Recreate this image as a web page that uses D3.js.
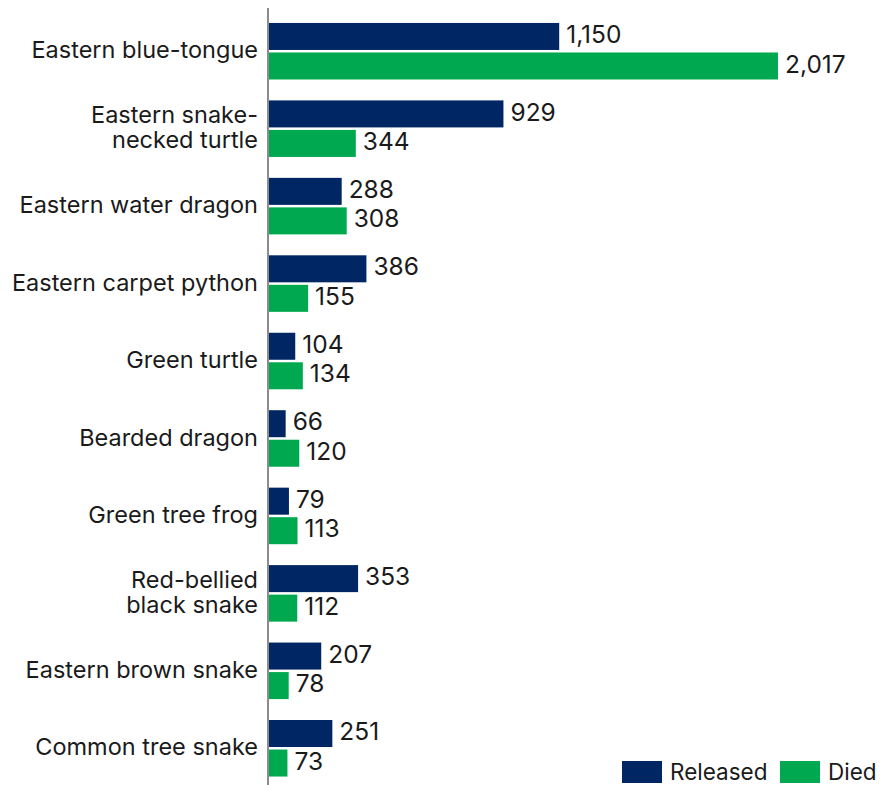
<!DOCTYPE html>
<html>
<head>
<meta charset="utf-8">
<script src="https://cdn.jsdelivr.net/npm/d3@7"></script>
<style>
	body { margin: 0; background: #fff; }
	text { font-family: "Inter", "Roboto", sans-serif; fill: #1a1a1a; }
</style>
</head>
<body>
<div id="chart"></div>
<script>
// species, top to bottom; "\n" splits the two-line labels
const species = [
	"Eastern blue-tongue",
	"Eastern snake-\nnecked turtle",
	"Eastern water dragon",
	"Eastern carpet python",
	"Green turtle",
	"Bearded dragon",
	"Green tree frog",
	"Red-bellied\nblack snake",
	"Eastern brown snake",
	"Common tree snake"
];
const released = [1150, 929, 288, 386, 104, 66, 79, 353, 207, 251];
const died = [2017, 344, 308, 155, 134, 120, 113, 112, 78, 73];
const series = ["Released", "Died"];
const colours = ["#002664", "#00a94f"];

const width = 890, height = 785;
const margin = {left: 268, right: 112};

const data = species.map((s, i) => ({species: s, Released: released[i], Died: died[i]}));

const svg = d3.select("#chart").append("svg")
	.attr("width", width)
	.attr("height", height);

const x = d3.scaleLinear()
	.domain([0, 2017])
	.range([margin.left + 1, width - margin.right]);

const y = d3.scaleBand()
	.domain(species)
	.range([12.5, 787])
	.paddingInner(0.27)
	.paddingOuter(0.135);

const y_sub = d3.scaleBand()
	.domain(series)
	.range([0, y.bandwidth()])
	.paddingInner(0.085);

const colour = d3.scaleOrdinal().domain(series).range(colours);
const fmt = d3.format(",");

// bars + value labels
const groups = svg.selectAll("g.row")
	.data(data)
	.enter()
	.append("g")
	.attr("class", "row")
	.attr("transform", (d) => `translate(0,${y(d.species)})`);

groups.selectAll("rect")
	.data((d) => series.map((k) => ({key: k, value: d[k]})))
	.enter()
	.append("rect")
	.attr("x", x(0))
	.attr("y", (d) => y_sub(d.key))
	.attr("width", (d) => x(d.value) - x(0))
	.attr("height", y_sub.bandwidth())
	.attr("fill", (d) => colour(d.key));

groups.selectAll("text.value")
	.data((d) => series.map((k) => ({key: k, value: d[k]})))
	.enter()
	.append("text")
	.attr("class", "value")
	.attr("x", (d) => x(d.value) + 7)
	.attr("y", (d) => y_sub(d.key) + y_sub.bandwidth() / 2)
	.attr("dy", "0.27em")
	.style("font-size", "24.5px")
	.text((d) => fmt(d.value));

// category labels (left axis, no ticks)
const labels = svg.selectAll("text.cat")
	.data(species)
	.enter()
	.append("text")
	.attr("class", "cat")
	.attr("text-anchor", "end")
	.attr("x", margin.left - 10)
	.attr("y", (d) => y(d) + y.bandwidth() / 2)
	.style("font-size", "23.5px");

labels.each(function(d) {
	const lines = d.split("\n");
	const el = d3.select(this);
	lines.forEach((line, i) => {
		el.append("tspan")
			.attr("x", margin.left - 10)
			.attr("dy", i === 0 ? (0.3 - (lines.length - 1) * 0.53) + "em" : "1.06em")
			.text(line);
	});
});

// axis line
svg.append("line")
	.attr("x1", margin.left)
	.attr("x2", margin.left)
	.attr("y1", 8)
	.attr("y2", height)
	.attr("stroke", "#666")
	.attr("stroke-width", 1.5);

// legend, bottom right
const legend_x = [622, 780];
const legend = svg.selectAll("g.legend")
	.data(series)
	.enter()
	.append("g")
	.attr("class", "legend")
	.attr("transform", (d, i) => `translate(${legend_x[i]},761)`);

legend.append("rect")
	.attr("width", 40)
	.attr("height", 22)
	.attr("fill", (d) => colour(d));

legend.append("text")
	.attr("x", 48)
	.attr("y", 19)
	.style("font-size", "22.5px")
	.text((d) => d);
</script>
</body>
</html>
